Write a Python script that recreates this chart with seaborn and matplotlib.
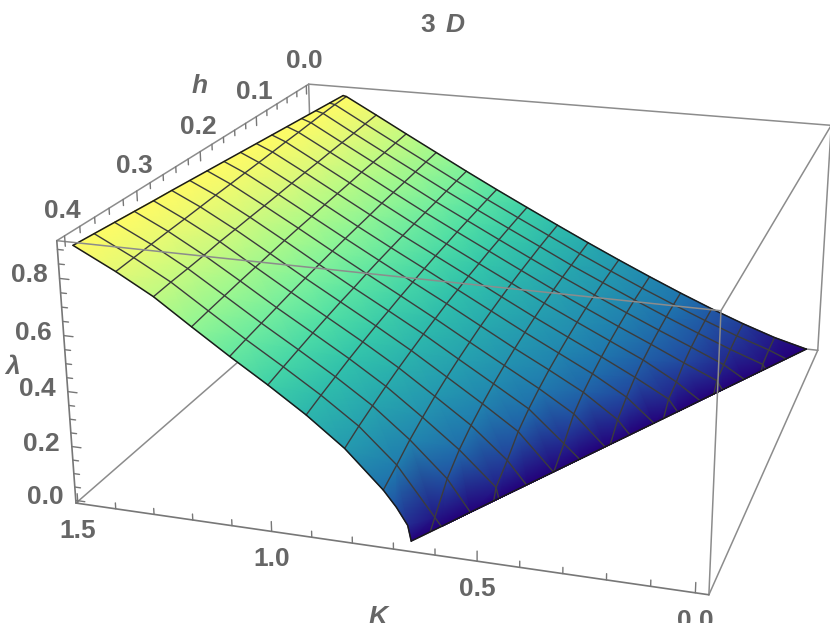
import numpy as np
import matplotlib
matplotlib.use('Agg')
import matplotlib.pyplot as plt
import matplotlib.tri as mtri
from mpl_toolkits.mplot3d import proj3d
import seaborn as sns

# surface values
h_vals = [0.0, 0.025, 0.05, 0.075, 0.1, 0.125, 0.15, 0.175, 0.2, 0.225, 0.25, 0.275, 0.3, 0.325, 0.35, 0.375, 0.4]
# K where the surface reaches lambda = 0, one for each h
k_edge = [0.0, 0.042, 0.084, 0.126, 0.168, 0.21, 0.251, 0.293, 0.335, 0.377, 0.419, 0.461, 0.503, 0.545, 0.587, 0.628, 0.67]
# K of the upper edge of the surface, one for each h, lambda is lam_top there
k_top = [1.39, 1.396, 1.402, 1.408, 1.414, 1.42, 1.426, 1.432, 1.438, 1.444, 1.45, 1.456, 1.461, 1.467, 1.473, 1.479, 1.485]
lam_top = 0.90
k_vals = [0.092, 0.184, 0.276, 0.368, 0.46, 0.552, 0.644, 0.736, 0.828, 0.92, 1.012, 1.104, 1.196, 1.288, 1.38]
# h where each short K line runs out at the lambda = 0 edge
h_edge = [0.055, 0.11, 0.165, 0.22, 0.275, 0.33, 0.384]
# two more points on the steep end of the h = 0.4 edge
k_front = [0.678, 0.705]
lam_front = [0.055, 0.115]
# lambda along each K line, starting at h = 0
lam_by_k = [
    [.035, .030, .018],
    [.080, .075, .066, .051, .035],
    [.130, .126, .119, .109, .093, .065, .047],
    [.184, .180, .174, .165, .154, .139, .119, .091, .054],
    [.241, .236, .231, .223, .213, .201, .186, .168, .146, .114, .053],
    [.300, .295, .290, .283, .274, .263, .250, .235, .218, .196, .170, .137, .084, .040],
    [.361, .356, .350, .344, .336, .326, .315, .302, .287, .270, .250, .226, .198, .162, .112, .030],
    [.424, .420, .415, .408, .401, .393, .383, .372, .360, .345, .329, .311, .290, .265, .237, .202, .170],
    [.488, .484, .479, .473, .467, .459, .452, .442, .433, .421, .409, .395, .380, .363, .344, .324, .300],
    [.553, .549, .544, .539, .533, .526, .520, .512, .503, .494, .483, .473, .461, .448, .433, .418, .401],
    [.620, .616, .611, .605, .600, .594, .588, .581, .574, .566, .556, .548, .538, .527, .515, .503, .490],
    [.689, .685, .680, .675, .670, .665, .658, .652, .646, .639, .631, .623, .615, .605, .595, .585, .574],
    [.758, .754, .749, .745, .741, .735, .730, .725, .719, .714, .708, .701, .694, .687, .679, .671, .662],
    [.828, .824, .819, .815, .811, .806, .802, .797, .792, .787, .783, .778, .774, .767, .762, .758, .752],
    [.897, .895, .891, .886, .881, .877, .872, .867, .863, .858, .854, .849, .844, .840, .835, .830, .825],
]

k_ticks = [0.0, 0.1, 0.2, 0.3, 0.4, 0.5, 0.6, 0.7, 0.8, 0.9, 1.0, 1.1, 1.2, 1.3, 1.4, 1.5]
h_ticks = [0.0, 0.02, 0.04, 0.06, 0.08, 0.1, 0.12, 0.14, 0.16, 0.18, 0.2, 0.22, 0.24, 0.26, 0.28, 0.3, 0.32, 0.34, 0.36, 0.38, 0.4]
lam_ticks = [0.0, 0.05, 0.1, 0.15, 0.2, 0.25, 0.3, 0.35, 0.4, 0.45, 0.5, 0.55, 0.6, 0.65, 0.7, 0.75, 0.8, 0.85, 0.9]
surface_colors = ['#24007a', '#22469f', '#1f75ae', '#2392b0', '#28aaae', '#32c4ab', '#52e0a5', '#82f39b', '#b0fa88', '#def97a', '#fffb66']

sns.set_theme(style='white')
plt.rcParams['font.family'] = ['Liberation Sans', 'DejaVu Sans']
cmap = sns.blend_palette(surface_colors, as_cmap=True)

k_lim = (-0.03, 1.505)
h_lim = (-0.005, 0.41)
z_lim = (-0.01, 0.93)
GREY = '#8c8c8c'
LABEL = '#666666'

fig = plt.figure(figsize=(8.3, 6.23), dpi=100)
# the 3d axes only sets up the view, everything is drawn on a flat axes above it
W = 860
ax = fig.add_axes([(479 - 0.5135 * W) / 830, (321.5 - 0.5135 * W) / 623, W / 830, W / 623], projection='3d')
ax.set_box_aspect((1, 1, 0.43))
ax.view_init(elev=20, azim=107.5)
ax.set_proj_type('persp', focal_length=0.447)
ax.set_xlim(*k_lim, view_margin=0)
ax.set_ylim(*h_lim, view_margin=0)
ax.set_zlim(*z_lim, view_margin=0)
ax.set_axis_off()
fig.canvas.draw()

ov = fig.add_axes([0, 0, 1, 1])
ov.axis('off')
ov.patch.set_alpha(0)


def to_px(k, h, z):
    xs, ys, _ = proj3d.proj_transform(np.asarray(k, float), np.asarray(h, float), np.asarray(z, float), ax.get_proj())
    return ax.transData.transform(np.c_[xs, ys]).T


def point(k, h, z):
    px, py = to_px([k], [h], [z])
    return float(px[0]), float(py[0])


def line3d(k, h, z, **kw):
    n = max(np.size(k), np.size(h), np.size(z))
    px, py = to_px(np.full(n, k) if np.size(k) == 1 else k,
                   np.full(n, h) if np.size(h) == 1 else h,
                   np.full(n, z) if np.size(z) == 1 else z)
    ov.plot(px, py, solid_capstyle='round', **kw)


# points of the surface
pk, ph, pz = [], [], []
for kv, row in zip(k_vals, lam_by_k):
    for i, val in enumerate(row):
        pk.append(kv)
        ph.append(h_vals[i])
        pz.append(val)
for i in range(len(h_vals)):
    pk += [k_edge[i], k_top[i]]
    ph += [h_vals[i], h_vals[i]]
    pz += [0.0, lam_top]
for kv, val in zip(k_front, lam_front):
    pk.append(kv)
    ph.append(0.4)
    pz.append(val)
pk, ph, pz = np.array(pk), np.array(ph), np.array(pz)

# connect the points in (K, h), the outline is not convex on screen
flat = mtri.Triangulation(pk / 1.5, ph / 0.4)
px, py = to_px(pk, ph, pz)
screen = mtri.Triangulation(px, py, flat.triangles)
ov.tripcolor(screen, pz, shading='gouraud', cmap=cmap, vmin=0, vmax=0.9, zorder=2)
ov.set_xlim(0, 830)
ov.set_ylim(0, 623)

# box edges behind the surface
k0, k1 = k_lim
h0, h1 = h_lim
z0, z1 = z_lim
box = dict(color=GREY, lw=1.1)
line3d([k1, k1], h0, [z0, z1], zorder=1, **box)
line3d([k1, k1], [h0, h1], z0, zorder=1, **box)
line3d([k0, k1], h0, z0, zorder=1, **box)
line3d([k0, k1], h0, z1, zorder=1, **box)
line3d(k0, h0, [z0, z1], zorder=1, **box)
line3d(k0, [h0, h1], z0, zorder=1, **box)
line3d(k0, [h0, h1], z1, zorder=1, **box)
line3d(k1, [h0, h1], z1, zorder=1, **box)


# one row of the surface at constant h
def h_row(i):
    ks, zs = [k_edge[i]], [0.0]
    if i == len(h_vals) - 1:
        ks += k_front
        zs += lam_front
    for kv, row in zip(k_vals, lam_by_k):
        if i < len(row):
            ks.append(kv)
            zs.append(row[i])
    return ks + [k_top[i]], zs + [lam_top]


# mesh
mesh = dict(color='#3c3c3c', lw=1.0, zorder=3)
for i in range(1, len(h_vals) - 1):
    ks, zs = h_row(i)
    line3d(ks, h_vals[i], zs, **mesh)
for j, (kv, row) in enumerate(zip(k_vals, lam_by_k)):
    hs = h_vals[:len(row)]
    zs = list(row)
    if j < len(h_edge):
        hs = hs + [h_edge[j]]
        zs = zs + [0.0]
    line3d(kv, hs, zs, **mesh)

# surface outline
edge = dict(color='#1a1a1a', lw=1.1, zorder=4)
line3d(k_top, h_vals, lam_top, **edge)
line3d(k_edge, h_vals, 0.0, **edge)
ks, zs = h_row(0)
line3d(ks, 0.0, zs, **edge)
ks, zs = h_row(len(h_vals) - 1)
line3d(ks, 0.4, zs, **edge)

# front box edges, these lie over the surface
line3d([k0, k1], h1, z1, zorder=5, **box)
line3d(k0, h1, [z0, z1], zorder=5, **box)
line3d([k0, k1], h1, z0, zorder=5, color='#777777', lw=1.2)
line3d(k1, h1, [z0, z1], zorder=5, color='#777777', lw=1.2)

# ticks and labels
tick = dict(color='#777777', lw=1.0, zorder=5)
text = dict(color=LABEL, fontsize=19, fontweight='bold', textcoords='offset pixels', annotation_clip=False)
for t in k_ticks:
    major = round(t * 10) % 5 == 0
    line3d(t, h1, [z0, z0 + (0.036 if major else 0.022)], **tick)
    if major:
        ov.annotate(f'{t:.1f}', point(t, h1, z0), xytext=(0, -28), ha='center', va='center', **text)
for t in h_ticks:
    major = round(t * 100) % 10 == 0
    line3d(k1, t, [z1, z1 - (0.036 if major else 0.022)], **tick)
    if major:
        ov.annotate(f'{t:.1f}', point(k1, t, z1), xytext=(-2, 25), ha='center', va='center', **text)
for t in lam_ticks:
    major = round(t * 100) % 20 == 0
    line3d([k1, k1 - (0.024 if major else 0.015)], h1, t, **tick)
    if major:
        ov.annotate(f'{t:.1f}', point(k1, h1, t), xytext=(-12, 3), ha='right', va='center', **text)

axis_text = dict(color=LABEL, fontsize=19, fontweight='bold', fontstyle='italic', ha='center', va='center')
ov.text(200, 623 - 86, 'h', **axis_text)
ov.text(378, 623 - 617, 'K', **axis_text)
ov.text(12, 623 - 367, 'λ', **axis_text)
ov.text(428, 623 - 25, '3', color=LABEL, fontsize=19, fontweight='bold', ha='center', va='center')
ov.text(455, 623 - 25, 'D', **axis_text)

fig.savefig('out.png', dpi=100)
